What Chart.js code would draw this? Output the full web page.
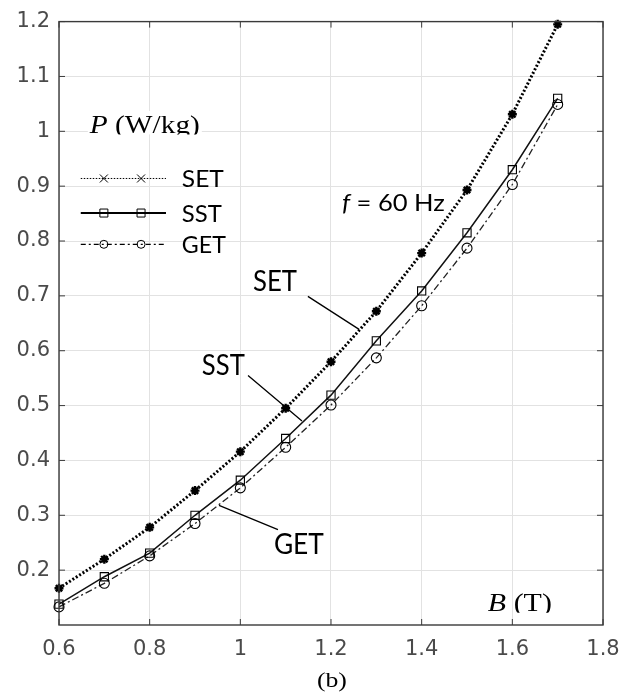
<!DOCTYPE html>
<html><head><meta charset="utf-8">
<style>html,body{margin:0;padding:0;background:#fff}#wrap{width:634px;height:694px;position:relative}</style>
<script src="https://cdn.jsdelivr.net/npm/chart.js@4.4.1/dist/chart.umd.min.js"></script>
</head><body><div id="wrap"><canvas id="c" width="634" height="694"></canvas></div>
<script>
// ---- data ----
const fluxB = [0.6, 0.7, 0.8, 0.9, 1.0, 1.1, 1.2, 1.3, 1.4, 1.5, 1.6, 1.7];
const lossSET = [0.167, 0.220, 0.278, 0.345, 0.416, 0.495, 0.580, 0.672, 0.778, 0.893, 1.031, 1.195];
const lossSST = [0.138, 0.188, 0.231, 0.300, 0.364, 0.440, 0.519, 0.618, 0.709, 0.815, 0.930, 1.060];
const lossGET = [0.133, 0.176, 0.226, 0.285, 0.350, 0.424, 0.501, 0.587, 0.682, 0.787, 0.903, 1.049];
const seriesNames = ['SET', 'SST', 'GET'];
const xTicks = [0.6, 0.8, 1.0, 1.2, 1.4, 1.6, 1.8];
const xTickLabels = ['0.6', '0.8', '1', '1.2', '1.4', '1.6', '1.8'];
const yTicks = [0.2, 0.3, 0.4, 0.5, 0.6, 0.7, 0.8, 0.9, 1.0, 1.1, 1.2];
const yTickLabels = ['0.2', '0.3', '0.4', '0.5', '0.6', '0.7', '0.8', '0.9', '1', '1.1', '1.2'];

// ---- styles ----
const LATO = (s) => s + 'px Lato';
const SERIF = (s, it) => (it ? 'italic ' : '') + s + 'px "Liberation Serif"';
const styles = [
  { line: { color: '#000', width: 3, dash: [2, 2] }, legendLine: { width: 1, dash: [1.5, 1.5] }, marker: 'x' },
  { line: { color: '#111', width: 1.5, dash: [] }, legendLine: { width: 2, dash: [] }, marker: 'rect' },
  { line: { color: '#222', width: 1.3, dash: [7, 3, 2, 3] }, legendLine: { width: 1.2, dash: [5, 3, 2, 3] }, marker: 'circle' }
];
const seriesData = [lossSET, lossSST, lossGET];

// annotation texts (data coords)
const notes = [
  { parts: [{ t: 'SET', f: LATO(28) }], x: 1.028, y: 0.708, w: 44 },
  { parts: [{ t: 'SST', f: LATO(28) }], x: 0.915, y: 0.555, w: 43 },
  { parts: [{ t: 'GET', f: LATO(28) }], x: 1.074, y: 0.229, w: 50 },
  { parts: [{ t: 'f', f: 'italic ' + LATO(24) }, { t: ' = 60 Hz', f: LATO(24) }], x: 1.224, y: 0.855, w: 103 },
  { parts: [{ t: 'P', f: SERIF(26, true) }, { t: ' (W/kg)', f: SERIF(26) }], x: 0.668, y: 0.997, w: 110, clip: true, bg: true },
  { parts: [{ t: 'B', f: SERIF(26, true) }, { t: ' (T)', f: SERIF(26) }], x: 1.546, y: 0.125, w: 64, clip: true },
  { parts: [{ t: '(b)', f: SERIF(22) }], x: 1.202, y: -0.013, w: 30, center: true }
];
const leaders = [
  [1.149, 0.699, 1.262, 0.639],
  [1.017, 0.555, 1.136, 0.472],
  [1.083, 0.274, 0.953, 0.318]
];
const legendRows = [0.914, 0.851, 0.794];
const legendLineX = [0.648, 0.836];
const legendMarkX = [0.699, 0.781];
const legendTextX = 0.871;
const legendTextW = [42, 40, 44];

function drawMarker(ctx, kind, x, y, r, lw) {
  ctx.save();
  ctx.setLineDash([]);
  ctx.lineWidth = lw;
  ctx.strokeStyle = '#000';
  ctx.beginPath();
  if (kind === 'x') {
    ctx.moveTo(x - r, y - r); ctx.lineTo(x + r, y + r);
    ctx.moveTo(x - r, y + r); ctx.lineTo(x + r, y - r);
  } else if (kind === 'rect') {
    ctx.rect(x - r, y - r, 2 * r, 2 * r);
  } else {
    ctx.arc(x, y, r, 0, Math.PI * 2);
  }
  ctx.stroke();
  ctx.restore();
}

function drawParts(ctx, parts, x, y, targetW, center) {
  let w = 0;
  parts.forEach(p => { ctx.font = p.f; p.mw = ctx.measureText(p.t).width; w += p.mw; });
  const s = targetW ? targetW / w : 1;
  const x0 = center ? x - (w * s) / 2 : x;
  ctx.save();
  ctx.translate(x0, y);
  ctx.scale(s, 1);
  ctx.textAlign = 'left';
  ctx.textBaseline = 'alphabetic';
  ctx.fillStyle = '#000';
  let cx = 0;
  parts.forEach(p => { ctx.font = p.f; ctx.fillText(p.t, cx, 0); cx += p.mw; });
  ctx.restore();
  return w * s;
}

const overlay = {
  id: 'overlay',
  afterDraw(chart) {
    const ctx = chart.ctx;
    const X = v => chart.scales.x.getPixelForValue(v);
    const Y = v => chart.scales.y.getPixelForValue(v);
    const a = chart.chartArea;
    // box with inward ticks
    ctx.save();
    ctx.strokeStyle = '#3a3a3a';
    ctx.lineWidth = 1.4;
    ctx.strokeRect(a.left, a.top, a.right - a.left, a.bottom - a.top);
    ctx.lineWidth = 1;
    ctx.beginPath();
    const tl = 6;
    xTicks.forEach(v => {
      const p = X(v);
      ctx.moveTo(p, a.bottom); ctx.lineTo(p, a.bottom - tl);
      ctx.moveTo(p, a.top); ctx.lineTo(p, a.top + tl);
    });
    yTicks.forEach(v => {
      const p = Y(v);
      ctx.moveTo(a.left, p); ctx.lineTo(a.left + tl, p);
      ctx.moveTo(a.right, p); ctx.lineTo(a.right - tl, p);
    });
    ctx.stroke();
    ctx.restore();

    // leaders
    ctx.save();
    ctx.strokeStyle = '#000';
    ctx.lineWidth = 1.3;
    ctx.beginPath();
    leaders.forEach(l => { ctx.moveTo(X(l[0]), Y(l[1])); ctx.lineTo(X(l[2]), Y(l[3])); });
    ctx.stroke();
    ctx.restore();

    // texts
    notes.forEach(n => {
      const x = X(n.x), y = Y(n.y);
      ctx.save();
      if (n.bg) {
        ctx.fillStyle = '#fff';
        ctx.fillRect(x - 2, y - 22, n.w + 4, 23.5);
      }
      if (n.clip) {
        ctx.beginPath();
        ctx.rect(x - 5, y - 40, n.w + 10, 41.5);
        ctx.clip();
      }
      drawParts(ctx, n.parts, x, y, n.w, n.center);
      ctx.restore();
    });

    // legend
    seriesNames.forEach((name, i) => {
      const st = styles[i];
      const y = Y(legendRows[i]);
      ctx.save();
      ctx.strokeStyle = '#000';
      ctx.lineWidth = st.legendLine.width;
      ctx.setLineDash(st.legendLine.dash);
      ctx.beginPath();
      ctx.moveTo(X(legendLineX[0]), y);
      ctx.lineTo(X(legendLineX[1]), y);
      ctx.stroke();
      ctx.restore();
      legendMarkX.forEach(mx => drawMarker(ctx, st.marker, X(mx), y, 4, 1));
      drawParts(ctx, [{ t: name, f: LATO(24) }], X(legendTextX), y + 8.5, legendTextW[i]);
    });
  }
};

const pointStyles = [
  { pointStyle: 'star', pointRadius: 4.5, pointBorderWidth: 2.4 },
  { pointStyle: 'rect', pointRadius: 5.8, pointBorderWidth: 1.1 },
  { pointStyle: 'circle', pointRadius: 5, pointBorderWidth: 1.1 }
];

const datasets = seriesNames.map((name, i) => Object.assign({
  label: name,
  data: fluxB.map((b, j) => ({ x: b, y: seriesData[i][j] })),
  borderColor: styles[i].line.color,
  borderWidth: styles[i].line.width,
  borderDash: styles[i].line.dash,
  pointBorderColor: '#000',
  pointBackgroundColor: 'rgba(0,0,0,0)',
  tension: 0,
  fill: false,
  clip: false
}, pointStyles[i]));

new Chart(document.getElementById('c'), {
  type: 'line',
  data: { datasets },
  options: {
    responsive: false,
    animation: false,
    devicePixelRatio: 1,
    layout: { padding: { left: 0, top: 13, right: 31, bottom: 0 } },
    plugins: { legend: { display: false }, tooltip: { enabled: false } },
    scales: {
      x: {
        type: 'linear', min: 0.6, max: 1.8, bounds: 'data',
        afterBuildTicks: s => { s.ticks = xTicks.map(v => ({ value: v })); },
        afterFit: s => { s.height = 69; },
        grid: { color: '#e2e2e2', lineWidth: 1, drawTicks: false },
        border: { display: false },
        ticks: { padding: 12, color: '#4a4a4a', font: { family: 'DejaVu Sans', size: 21 },
                 autoSkip: false, maxRotation: 0, callback: (v, i) => xTickLabels[i] }
      },
      y: {
        type: 'linear', min: 0.1, max: 1.2, bounds: 'data',
        afterBuildTicks: s => { s.ticks = yTicks.map(v => ({ value: v })); },
        afterFit: s => { s.width = 59; },
        grid: { color: '#e2e2e2', lineWidth: 1, drawTicks: false },
        border: { display: false },
        ticks: { padding: 9, color: '#4a4a4a', font: { family: 'DejaVu Sans', size: 21 },
                 autoSkip: false, callback: (v, i) => yTickLabels[i] }
      }
    }
  },
  plugins: [overlay]
});
</script>
</body></html>
